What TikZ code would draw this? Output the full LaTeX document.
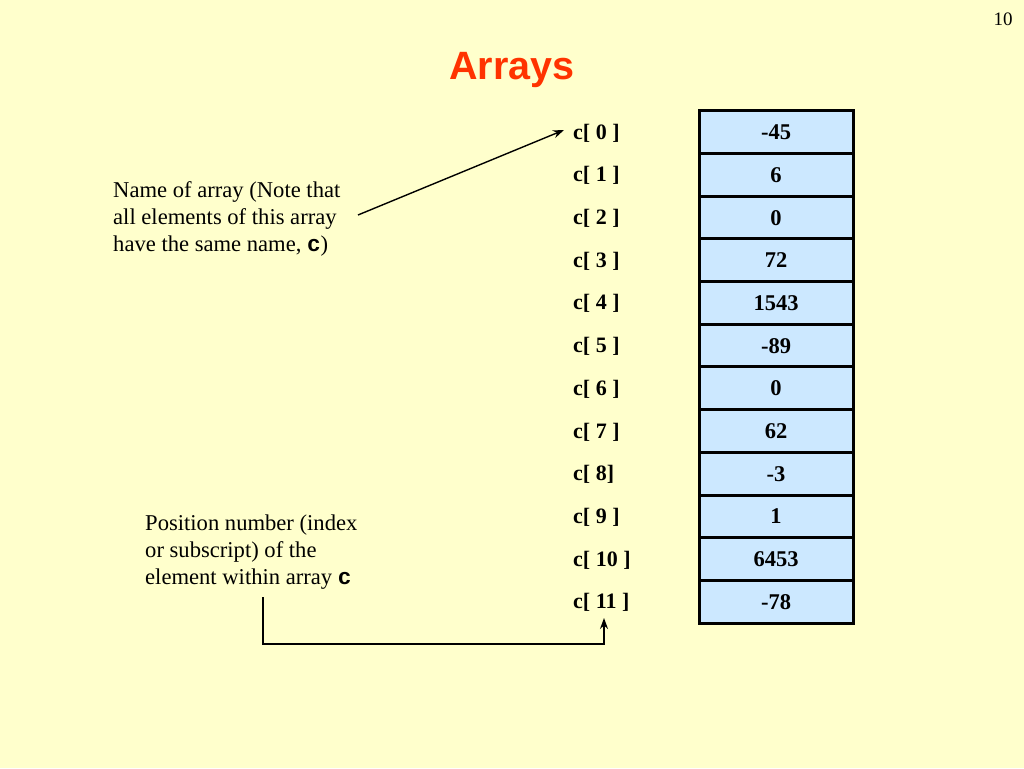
\documentclass[tikz,border=0pt]{standalone}
\usepackage{fontspec}
\usetikzlibrary{arrows.meta}
\setmainfont{Liberation Serif}
\newfontfamily\titlefont{Liberation Sans}
\newfontfamily\codefont{Liberation Mono}
\definecolor{bgyellow}{HTML}{FFFFCC}
\definecolor{cellblue}{HTML}{CCE8FF}
\definecolor{titlered}{HTML}{FF3300}
\begin{document}
\begin{tikzpicture}[x=1pt,y=-1pt,
  body/.style={anchor=west,inner sep=0pt,align=left,font=\fontsize{22.6}{27}\selectfont},
  idx/.style={anchor=west,inner sep=0pt,font=\fontsize{22}{24}\selectfont\bfseries},
  cell/.style={draw=black,line width=3pt,fill=cellblue,minimum width=154pt,minimum height=42.67pt,inner sep=0pt,font=\fontsize{22.5}{24}\selectfont\bfseries},
  conn/.style={line width=1.4pt,-{Stealth[length=11pt,width=8pt]}}]
\useasboundingbox (0,0) rectangle (1024,768);
\fill[bgyellow] (0,0) rectangle (1024,768);
\node[inner sep=0pt,font=\fontsize{19}{20}\selectfont] (pg) at (1003,19) {10};
\node[inner sep=0pt,font=\fontsize{39.5}{40}\selectfont\titlefont\bfseries,text=titlered] (title) at (512,70) {Arrays};
% cells
\foreach \v [count=\i from 0] in {-45,6,0,72,1543,-89,0,62,-3,1,6453,-78}{
  \node[cell] (cell\i) at (776,{132.3+42.67*\i}) {\v};
}
% index labels
\foreach \l [count=\i from 0] in {c[ 0 ],c[ 1 ],c[ 2 ],c[ 3 ],c[ 4 ],c[ 5 ],c[ 6 ],c[ 7 ],c[ 8],c[ 9 ],c[ 10 ],c[ 11 ]}{
  \node[idx] (lab\i) at (573,{133+42.7*\i}) {\l};
}
\node[body] (name) at (113,219) {Name of array (Note that\\all elements of this array\\have the same name, {\codefont\bfseries c})};
\node[body] (pos) at (145,552) {Position number (index\\or subscript) of the\\element within array {\codefont\bfseries c}};
\coordinate (a1) at (358,215);
\coordinate (b1) at (263,597);
\coordinate (b2) at (263,644);
\coordinate (b3) at (604,644);
\draw[conn] (a1) -- ([xshift=-9pt,yshift=3pt]lab0.west);
\draw[conn] (b1) -- (b2) -- (b3) -- ([yshift=-6pt]lab11.south -| b3);
\end{tikzpicture}
\end{document}
